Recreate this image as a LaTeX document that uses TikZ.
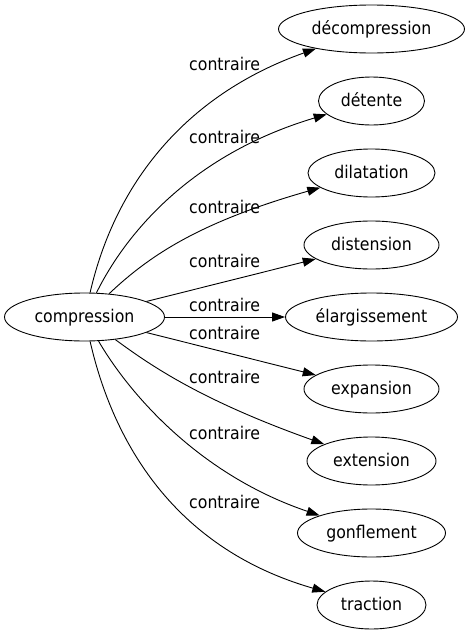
\documentclass[tikz,border=0pt]{standalone}
\usepackage{fontspec}
\setmainfont{DejaVu Sans}[FakeStretch=0.9]
\usetikzlibrary{arrows.meta,positioning,shapes.geometric}

\begin{document}
\begin{tikzpicture}[
  x=1pt, y=-1pt,
  node distance=23.1pt,
  term/.style={
    draw,
    ellipse,
    line width=0.9pt,
    inner sep=0pt,
    minimum height=48pt,
    text height=13pt,
    text depth=2pt,
    font=\fontsize{17.5}{20}\selectfont
  },
  rel/.style={
    anchor=base west,
    inner sep=0pt,
    font=\fontsize{17.5}{20}\selectfont
  },
  arrow/.style={-{Triangle[length=13pt,width=9pt]},line width=0.9pt}
]
\useasboundingbox (0,0) rectangle (470,635);
\node[term,minimum width=160pt] (comp) at (84.5,317) {compression};
\node[term,minimum width=186pt] (dec) at (371.5,29) {décompression};
\node[term,minimum width=106pt,below=of dec] (det) {détente};
\node[term,minimum width=127pt,below=of det] (dil) {dilatation};
\node[term,minimum width=135pt,below=of dil] (dis) {distension};
\node[term,minimum width=172pt,below=of dis] (ela) {élargissement};
\node[term,minimum width=135pt,below=of ela] (exp) {expansion};
\node[term,minimum width=129pt,below=of exp] (ext) {extension};
\node[term,minimum width=148pt,below=of ext] (gon) {gonflement};
\node[term,minimum width=109pt,below=of gon] (tra) {traction};
\draw[arrow] (comp) .. controls (115,184) and (185,95) .. (dec);
\draw[arrow] (comp) .. controls (125,235) and (190,155) .. (det);
\draw[arrow] (comp) .. controls (150,255) and (200,222) .. (dil);
\draw[arrow] (comp) -- (dis);
\draw[arrow] (comp) -- (ela);
\draw[arrow] (comp) -- (exp);
\draw[arrow] (comp) .. controls (150,365) and (200,400) .. (ext);
\draw[arrow] (comp) .. controls (130,395) and (200,475) .. (gon);
\draw[arrow] (comp) .. controls (115,450) and (180,550) .. (tra);
\node[rel] (r1) at (189,70.7) {contraire};
\node[rel] (r2) at (189,143.3) {contraire};
\node[rel] (r3) at (189,213.3) {contraire};
\node[rel] (r4) at (189,267.3) {contraire};
\node[rel] (r5) at (189,311.7) {contraire};
\node[rel] (r6) at (189,339.3) {contraire};
\node[rel] (r7) at (189,383.3) {contraire};
\node[rel] (r8) at (189,439.3) {contraire};
\node[rel] (r9) at (189,508.3) {contraire};
\end{tikzpicture}
\end{document}
